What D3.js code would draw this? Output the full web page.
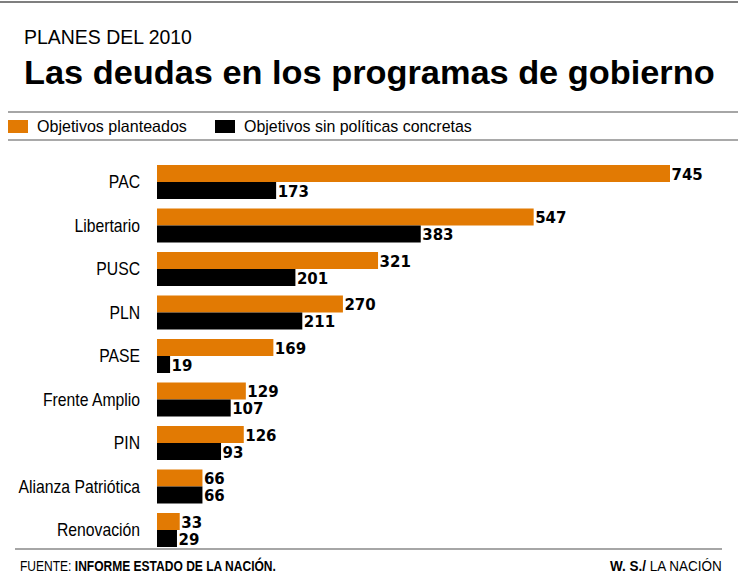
<!DOCTYPE html>
<html>
<head>
<meta charset="utf-8">
<script src="https://cdn.jsdelivr.net/npm/d3@7"></script>
<style>
  body { margin: 0; background: #fff; }
  .narrow { font-family: "Liberation Sans", Arial, sans-serif; }
  .val { font-family: "DejaVu Sans", sans-serif; font-weight: bold; font-size: 15px; }
</style>
</head>
<body>
<script>
var svgWidth = 738;
var svgHeight = 575;

// Data
var partidos = ["PAC", "Libertario", "PUSC", "PLN", "PASE", "Frente Amplio", "PIN", "Alianza Patriótica", "Renovación"];
var planteados = [745, 547, 321, 270, 169, 129, 126, 66, 33];
var sinPoliticas = [173, 383, 201, 211, 19, 107, 93, 66, 29];
var seriesNames = ["Objetivos planteados", "Objetivos sin políticas concretas"];
var colors = ["#e27a03", "#000000"];

var svg = d3.select("body")
  .append("svg")
  .attr("width", svgWidth)
  .attr("height", svgHeight);

// squeeze a text horizontally so it is w pixels wide (the fonts here are not condensed)
function fitText(sel, x, y, w) {
  var len = sel.node().getComputedTextLength();
  sel.attr("x", 0).attr("y", 0)
    .attr("transform", `translate(${x}, ${y}) scale(${w / len}, 1)`);
}

// rules
svg.append("line").attr("x1", 0).attr("x2", 738).attr("y1", 2).attr("y2", 2)
  .attr("stroke", "#555").attr("stroke-width", 1.5);
svg.append("line").attr("x1", 8).attr("x2", 738).attr("y1", 112).attr("y2", 112)
  .attr("stroke", "#888").attr("stroke-width", 1.5);
svg.append("line").attr("x1", 8).attr("x2", 738).attr("y1", 140).attr("y2", 140)
  .attr("stroke", "#555").attr("stroke-width", 1.2);
svg.append("line").attr("x1", 15).attr("x2", 722).attr("y1", 549).attr("y2", 549)
  .attr("stroke", "#888").attr("stroke-width", 1.5);

// titles
var sub = svg.append("text")
  .attr("class", "narrow")
  .style("font-size", "21px")
  .text("PLANES DEL 2010");
fitText(sub, 24, 44, 168);

var title = svg.append("text")
  .attr("class", "narrow")
  .style("font-size", "34px")
  .style("font-weight", "bold")
  .text("Las deudas en los programas de gobierno");
fitText(title, 24, 84, 691);

// legend
var legendX = [8, 215];
var legendW = [150, 228];
seriesNames.forEach(function(name, i) {
  svg.append("rect")
    .attr("x", legendX[i]).attr("y", 120)
    .attr("width", 20).attr("height", 13)
    .attr("fill", colors[i]);
  var t = svg.append("text")
    .attr("class", "narrow")
    .style("font-size", "16.5px")
    .text(name);
  fitText(t, legendX[i] + 29, 132, legendW[i]);
});

// scales
var x = d3.scaleLinear()
  .domain([0, 745])
  .range([157, 670]);

var y = d3.scaleBand()
  .domain(partidos)
  .range([165, 547])
  .paddingInner(0.2184)
  .paddingOuter(0);

var ySub = d3.scaleBand()
  .domain([0, 1])
  .range([0, y.bandwidth()]);

var rows = partidos.map(function(p, i) {
  return { partido: p, values: [planteados[i], sinPoliticas[i]] };
});

var groups = svg.selectAll(".grupo")
  .data(rows)
  .enter()
  .append("g")
  .attr("class", "grupo")
  .attr("transform", d => `translate(0, ${y(d.partido)})`);

// category labels
groups.append("text")
  .attr("class", "narrow")
  .attr("transform", `translate(140, ${y.bandwidth() / 2}) scale(0.9, 1)`)
  .attr("dy", "0.36em")
  .attr("text-anchor", "end")
  .style("font-size", "17.5px")
  .text(d => d.partido);

var bars = groups.selectAll("rect")
  .data(d => d.values)
  .enter();

bars.append("rect")
  .attr("x", x(0))
  .attr("y", (d, i) => ySub(i))
  .attr("width", d => x(d) - x(0))
  .attr("height", ySub.bandwidth())
  .attr("fill", (d, i) => colors[i]);

bars.append("text")
  .attr("class", "val")
  .attr("x", d => x(d) + 1.5)
  .attr("y", (d, i) => ySub(i) + ySub.bandwidth() / 2)
  .attr("dy", "0.42em")
  .text(d => d);

// footer
var foot = svg.append("text")
  .attr("class", "narrow")
  .style("font-size", "14px");
foot.append("tspan").text("FUENTE: ");
foot.append("tspan").style("font-weight", "bold").text("INFORME ESTADO DE LA NACIÓN.");
fitText(foot, 20, 571, 256);

var credit = svg.append("text")
  .attr("class", "narrow")
  .style("font-size", "14px");
credit.append("tspan").style("font-weight", "bold").text("W. S./ ");
credit.append("tspan").text("LA NACIÓN");
fitText(credit, 610, 571, 112);
</script>
</body>
</html>
